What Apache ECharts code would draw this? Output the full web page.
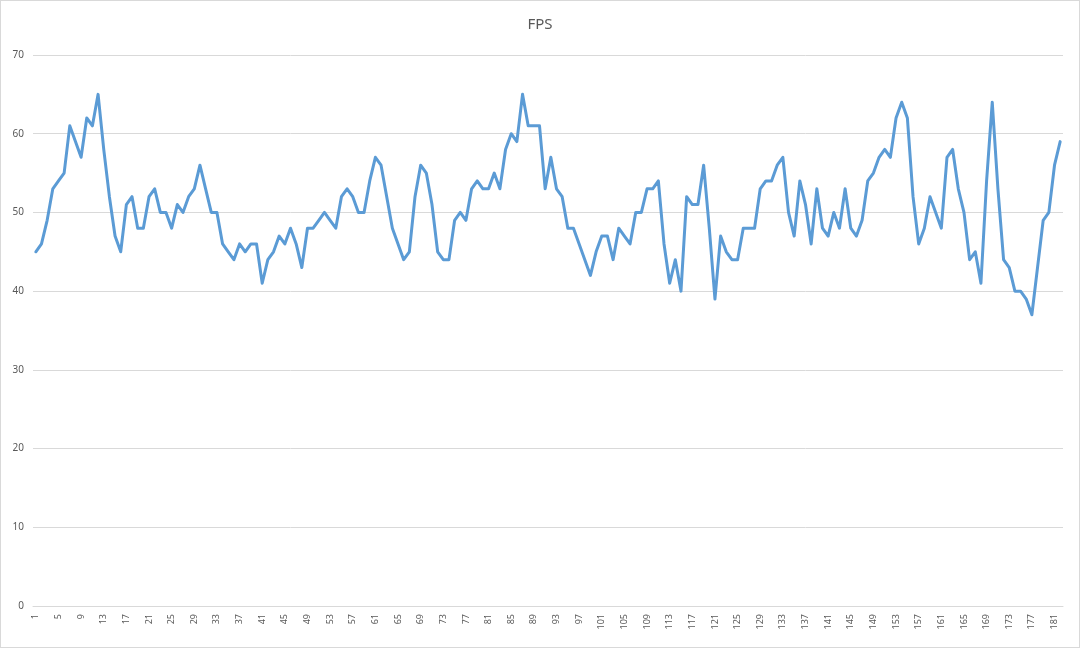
<!DOCTYPE html>
<html>
<head>
<meta charset="utf-8">
<script src="https://cdn.jsdelivr.net/npm/echarts@6/dist/echarts.min.js"></script>
<style>
html,body{margin:0;padding:0;background:#fff;}
#c{width:1080px;height:648px;box-sizing:border-box;border:1px solid #d9d9d9;}
</style>
</head>
<body>
<div id="c"></div>
<script>
const titleText = 'FPS';
const fps = [
45,46,49,53,54,55,61,59,57,62,61,65,58,52,47,45,51,52,48,48,
52,53,50,50,48,51,50,52,53,56,53,50,50,46,45,44,46,45,46,46,
41,44,45,47,46,48,46,43,48,48,49,50,49,48,52,53,52,50,50,54,
57,56,52,48,46,44,45,52,56,55,51,45,44,44,49,50,49,53,54,53,
53,55,53,58,60,59,65,61,61,61,53,57,53,52,48,48,46,44,42,45,
47,47,44,48,47,46,50,50,53,53,54,46,41,44,40,52,51,51,56,48,
39,47,45,44,44,48,48,48,53,54,54,56,57,50,47,54,51,46,53,48,
47,50,48,53,48,47,49,54,55,57,58,57,62,64,62,52,46,48,52,50,
48,57,58,53,50,44,45,41,54,64,53,44,43,40,40,39,37,43,49,50,
56,59
];
const categories = fps.map((v, i) => String(i + 1));
const yTicks = [0, 10, 20, 30, 40, 50, 60, 70];

const chart = echarts.init(document.getElementById('c'), null, {renderer: 'canvas'});
chart.setOption({
  animation: false,
  title: {
    text: titleText,
    left: 'center',
    top: 11,
    textStyle: {color: '#595959', fontSize: 15, fontWeight: 'normal', fontFamily: 'Noto Sans'}
  },
  grid: {left: 32, right: 16, top: 54, bottom: 41, containLabel: false},
  xAxis: {
    type: 'category',
    data: categories,
    boundaryGap: true,
    axisLine: {show: true, lineStyle: {color: '#d9d9d9'}},
    axisTick: {show: false},
    axisLabel: {
      interval: 3,
      rotate: 90,
      color: '#595959',
      fontSize: 9,
      margin: 8,
      fontFamily: 'Noto Sans'
    },
    splitLine: {show: false}
  },
  yAxis: {
    type: 'value',
    min: yTicks[0],
    max: yTicks[yTicks.length - 1],
    interval: 10,
    axisLine: {show: false},
    axisTick: {show: false},
    axisLabel: {color: '#595959', fontSize: 10, margin: 9, fontFamily: 'Noto Sans'},
    splitLine: {show: true, lineStyle: {color: '#d9d9d9', width: 1}}
  },
  series: [{
    type: 'line',
    data: fps,
    showSymbol: false,
    symbol: 'none',
    lineStyle: {color: '#5b9bd5', width: 3, join: 'round', cap: 'round'},
    itemStyle: {color: '#5b9bd5'}
  }]
});
</script>
</body>
</html>
